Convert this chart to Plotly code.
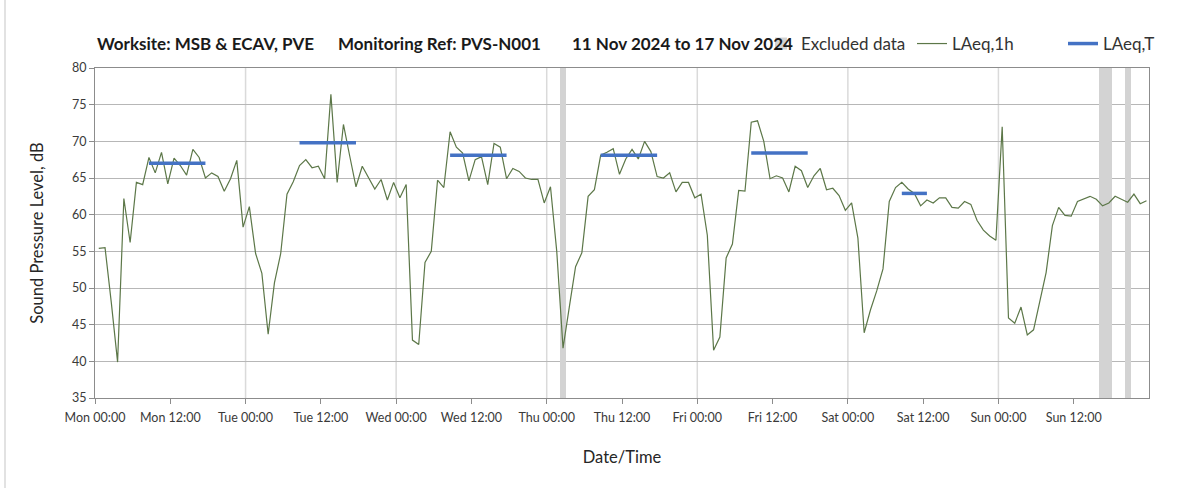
import pandas as pd
import plotly.graph_objects as go

# ---------------- data ----------------
# Hourly LAeq,1h values (dB), Mon 11 Nov 2024 00:00 -> Sun 17 Nov 2024 23:00
laeq_mon = [55.4, 55.5, 48.0, 39.9, 62.2, 56.2, 64.4, 64.1, 67.8, 65.7, 68.5, 64.2,
            67.7, 66.7, 65.4, 68.9, 67.8, 65.0, 65.7, 65.2, 63.2, 64.9, 67.4, 58.3]
laeq_tue = [61.1, 54.7, 52.0, 43.7, 50.7, 54.7, 62.8, 64.5, 66.7, 67.5, 66.4, 66.6,
            64.9, 76.4, 64.4, 72.3, 68.0, 63.8, 66.6, 65.1, 63.5, 64.8, 62.0, 64.4]
laeq_wed = [62.3, 64.1, 42.9, 42.3, 53.5, 55.0, 64.7, 63.7, 71.3, 69.2, 68.4, 64.6,
            67.5, 67.9, 64.1, 69.7, 69.2, 64.9, 66.3, 65.9, 65.0, 64.8, 64.8, 61.6]
laeq_thu = [63.8, 55.0, 41.8, 47.4, 52.9, 54.8, 62.5, 63.4, 68.1, 68.5, 69.0, 65.5,
            67.6, 68.9, 67.6, 70.0, 68.6, 65.2, 65.0, 65.7, 63.1, 64.4, 64.4, 62.3]
laeq_fri = [62.8, 57.2, 41.5, 43.3, 54.1, 56.0, 63.3, 63.2, 72.6, 72.8, 70.0, 64.9,
            65.3, 65.0, 63.1, 66.6, 66.0, 63.7, 65.3, 66.3, 63.4, 63.6, 62.6, 60.6]
laeq_sat = [61.6, 56.8, 43.9, 47.0, 49.6, 52.6, 61.8, 63.7, 64.4, 63.5, 62.9, 61.2,
            62.0, 61.6, 62.3, 62.3, 61.0, 60.9, 61.8, 61.4, 59.2, 57.9, 57.1, 56.5]
laeq_sun = [72.0, 45.9, 45.2, 47.4, 43.6, 44.3, 48.4, 52.1, 58.5, 61.0, 59.9, 59.8,
            61.8, 62.1, 62.5, 62.1, 61.2, 61.6, 62.5, 62.1, 61.7, 62.8, 61.5, 61.9]

# LAeq,T periods: (start hour index, end hour index, value)
laeqt_start_idx = [8, 32, 56, 80, 104, 128]
laeqt_end_idx = [17, 41, 65, 89, 113, 132]
laeqt_values = [67.0, 69.8, 68.1, 68.1, 68.4, 62.9]

# Hours with excluded data (hour index from Mon 00:00)
excluded_idx = [74, 160, 161, 164]

tick_labels = ["Mon 00:00", "Mon 12:00", "Tue 00:00", "Tue 12:00", "Wed 00:00", "Wed 12:00",
               "Thu 00:00", "Thu 12:00", "Fri 00:00", "Fri 12:00", "Sat 00:00", "Sat 12:00",
               "Sun 00:00", "Sun 12:00"]

# ---------------- build ----------------
laeq_1h = laeq_mon + laeq_tue + laeq_wed + laeq_thu + laeq_fri + laeq_sat + laeq_sun
times = pd.date_range("2024-11-11 00:36", periods=len(laeq_1h), freq="h")

FONT = "Lato, 'Open Sans', sans-serif"
GREEN = "#5c7748"
BLUE = "#4472C4"
GREY_EX = "#d3d3d3"
AXIS = "#8c8c8c"
TXT = "#3a3a3a"

PLOT_W = 1203 - 95 - 54
PLOT_H = 488 - 68 - 90

fig = go.Figure()

# excluded data bands
fig.add_trace(go.Bar(
    x=[times[i] for i in excluded_idx],
    y=[80 - 35] * len(excluded_idx),
    base=35,
    width=3600000,
    marker=dict(color=GREY_EX, line=dict(width=0)),
    name="Excluded data",
    hoverinfo="skip",
))

fig.add_trace(go.Scatter(
    x=times, y=laeq_1h, mode="lines",
    line=dict(color=GREEN, width=1.2),
    name="LAeq,1h",
))

tx, ty = [], []
for s, e, v in zip(laeqt_start_idx, laeqt_end_idx, laeqt_values):
    tx += [times[s], times[e], None]
    ty += [v, v, None]
fig.add_trace(go.Scatter(
    x=tx, y=ty, mode="lines",
    line=dict(color=BLUE, width=3.5),
    name="LAeq,T",
))

# vertical day gridlines
for d in pd.date_range("2024-11-12", periods=6, freq="D"):
    fig.add_shape(type="line", xref="x", yref="paper", x0=d, x1=d, y0=0, y1=1,
                  line=dict(color="#dadada", width=1.5), layer="below")

# outer chart-area left border
fig.add_shape(type="line", xref="paper", yref="paper",
              x0=(5 - 95) / PLOT_W, x1=(5 - 95) / PLOT_W, y0=-90 / PLOT_H, y1=1 + 68 / PLOT_H,
              line=dict(color="#d9d9d9", width=1.5))

tickvals = pd.date_range("2024-11-11", periods=len(tick_labels), freq="12h")

fig.update_layout(
    width=1203, height=488,
    margin=dict(l=95, r=54, t=68, b=90, autoexpand=False),
    paper_bgcolor="white", plot_bgcolor="white",
    font=dict(family=FONT, color=TXT),
    showlegend=True,
    legend=dict(orientation="h", x=(761 - 95) / PLOT_W, xanchor="left",
                y=1 + (68 - 44) / PLOT_H, yanchor="middle",
                font=dict(size=17, color="#333333"), entrywidth=106,
                bgcolor="rgba(0,0,0,0)", traceorder="normal", itemwidth=30),
    bargap=0,
    xaxis=dict(
        type="date", range=["2024-11-11", "2024-11-18"],
        tickvals=tickvals, ticktext=tick_labels, tickangle=0,
        showgrid=False, zeroline=False,
        showline=True, linecolor=AXIS, linewidth=1, mirror=True,
        ticks="outside", ticklen=5, tickcolor=AXIS, ticklabelstandoff=3,
        tickfont=dict(size=12.5, color=TXT),
        title=dict(text="Date/Time", font=dict(size=16.5, color="#262626"), standoff=27),
    ),
    yaxis=dict(
        range=[35, 80], dtick=5, tick0=35,
        showgrid=True, gridcolor="#b7b7b7", gridwidth=1, zeroline=False,
        showline=True, linecolor=AXIS, linewidth=1, mirror=True,
        ticks="outside", ticklen=5, tickcolor=AXIS,
        tickfont=dict(size=12.5, color=TXT),
        title=dict(text="Sound Pressure Level, dB", font=dict(size=16.5, color="#262626"), standoff=24),
    ),
)

title_parts = [("Worksite: MSB &amp; ECAV, PVE", 0.0),
               ("Monitoring Ref: PVS-N001", (336 - 95) / PLOT_W),
               ("11 Nov 2024 to 17 Nov 2024", (570 - 95) / PLOT_W)]
for text, xp in title_parts:
    fig.add_annotation(text="<b>" + text + "</b>", x=xp, xref="paper", xanchor="left",
                       y=1 + (68 - 43) / PLOT_H, yref="paper", yanchor="middle",
                       showarrow=False, font=dict(size=17, color="#1a1a1a", family=FONT))

fig.write_html("out.html", config={"displayModeBar": False},
               post_script="document.body.style.margin='0';document.body.style.padding='0';")
